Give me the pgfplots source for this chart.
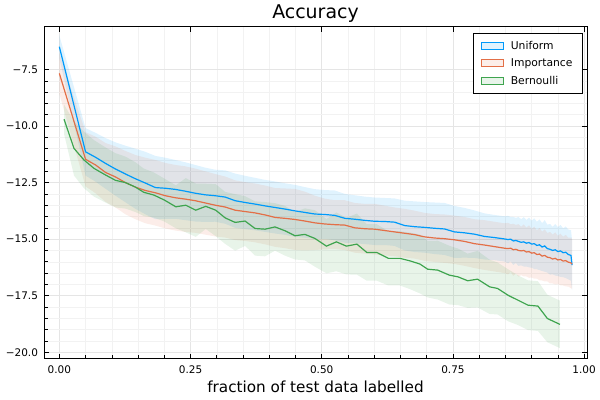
\documentclass[border=0pt]{standalone}
\usepackage{fontspec}
\setmainfont{DejaVu Sans}
\usepackage{pgfplots}
\pgfplotsset{compat=1.18}
\usepackage{pgfplotstable}
\usepgfplotslibrary{fillbetween}
\definecolor{cU}{RGB}{0,154,250}
\definecolor{cI}{RGB}{227,111,71}
\definecolor{cB}{RGB}{62,164,78}

% Uniform: x, mean, half-width of ribbon
\pgfplotstableread{
x y d
0.000 -6.49 0.50
0.050 -11.14 1.05
0.069 -11.38 1.08
0.088 -11.65 1.12
0.107 -11.90 1.18
0.126 -12.12 1.25
0.145 -12.33 1.33
0.164 -12.52 1.38
0.183 -12.72 1.40
0.202 -12.75 1.35
0.221 -12.80 1.30
0.240 -12.88 1.28
0.259 -12.97 1.25
0.278 -13.04 1.20
0.297 -13.08 1.15
0.316 -13.14 1.18
0.335 -13.30 1.20
0.354 -13.38 1.18
0.373 -13.45 1.16
0.392 -13.53 1.15
0.411 -13.60 1.15
0.430 -13.67 1.14
0.449 -13.75 1.15
0.468 -13.82 1.12
0.487 -13.89 1.10
0.506 -13.91 1.08
0.525 -13.95 1.10
0.544 -14.08 1.08
0.563 -14.12 1.06
0.582 -14.17 1.05
0.601 -14.21 1.05
0.620 -14.22 1.04
0.639 -14.25 1.05
0.658 -14.40 1.10
0.677 -14.45 1.12
0.696 -14.48 1.12
0.715 -14.52 1.14
0.734 -14.55 1.15
0.753 -14.68 1.15
0.772 -14.72 1.10
0.791 -14.78 1.05
0.810 -14.88 1.02
0.829 -14.93 1.00
0.848 -14.99 1.00
0.855 -15.02 1.05
0.860 -15.00 0.98
0.865 -15.08 1.06
0.870 -15.06 1.00
0.875 -15.10 1.08
0.880 -15.14 1.02
0.885 -15.12 1.09
0.890 -15.18 1.03
0.895 -15.15 1.10
0.900 -15.22 1.04
0.905 -15.20 1.12
0.910 -15.28 1.05
0.915 -15.25 1.12
0.920 -15.35 1.06
0.925 -15.30 1.14
0.930 -15.42 1.06
0.935 -15.45 1.12
0.940 -15.50 1.05
0.945 -15.47 1.14
0.950 -15.55 1.08
0.955 -15.52 1.15
0.960 -15.60 1.08
0.965 -15.58 1.14
0.970 -15.68 1.10
0.975 -15.72 1.12
0.977 -16.15 1.12
}\tU

% Importance
\pgfplotstableread{
x y d
0.000 -7.67 0.90
0.050 -11.47 1.20
0.069 -11.72 1.25
0.088 -12.05 1.30
0.107 -12.25 1.35
0.126 -12.50 1.40
0.145 -12.70 1.42
0.164 -12.85 1.45
0.183 -12.95 1.45
0.202 -13.08 1.45
0.221 -13.17 1.45
0.240 -13.23 1.45
0.259 -13.30 1.42
0.278 -13.40 1.40
0.297 -13.50 1.38
0.316 -13.58 1.35
0.335 -13.72 1.32
0.354 -13.78 1.30
0.373 -13.84 1.30
0.392 -13.93 1.30
0.411 -14.04 1.30
0.430 -14.08 1.32
0.449 -14.13 1.35
0.468 -14.20 1.30
0.487 -14.28 1.20
0.506 -14.33 1.12
0.525 -14.36 1.08
0.544 -14.38 1.10
0.563 -14.50 1.10
0.582 -14.54 1.10
0.601 -14.56 1.12
0.620 -14.62 1.10
0.639 -14.68 1.08
0.658 -14.74 1.08
0.677 -14.80 1.06
0.696 -14.90 1.06
0.715 -14.95 1.06
0.734 -14.98 1.07
0.753 -15.03 1.07
0.772 -15.10 1.08
0.791 -15.20 1.08
0.810 -15.26 1.10
0.829 -15.33 1.10
0.848 -15.40 1.10
0.855 -15.42 1.14
0.860 -15.40 1.06
0.865 -15.47 1.15
0.870 -15.45 1.08
0.875 -15.50 1.16
0.880 -15.52 1.07
0.885 -15.50 1.15
0.890 -15.57 1.08
0.895 -15.55 1.16
0.900 -15.62 1.08
0.905 -15.60 1.15
0.910 -15.68 1.07
0.915 -15.66 1.16
0.920 -15.75 1.08
0.925 -15.72 1.15
0.930 -15.80 1.07
0.935 -15.82 1.14
0.940 -15.88 1.08
0.945 -15.85 1.15
0.950 -15.92 1.07
0.955 -15.90 1.14
0.960 -15.97 1.08
0.965 -15.95 1.14
0.970 -16.02 1.08
0.975 -16.05 1.12
0.977 -16.10 1.10
}\tI

% Bernoulli
\pgfplotstableread{
x y d
0.009 -9.70 0.65
0.028 -10.99 1.20
0.047 -11.50 1.25
0.066 -11.87 1.25
0.087 -12.15 1.22
0.107 -12.40 1.20
0.126 -12.50 1.15
0.145 -12.70 1.10
0.161 -12.93 1.05
0.180 -13.05 1.00
0.200 -13.27 0.95
0.222 -13.57 0.95
0.241 -13.50 1.20
0.260 -13.72 1.18
0.279 -13.55 1.00
0.298 -13.72 1.15
0.316 -14.06 1.15
0.335 -14.26 1.25
0.354 -14.20 1.10
0.373 -14.53 1.20
0.392 -14.56 1.20
0.411 -14.46 1.05
0.430 -14.63 1.10
0.449 -14.85 1.05
0.468 -14.79 1.15
0.487 -14.97 1.25
0.509 -15.31 1.20
0.528 -15.12 1.30
0.547 -15.31 1.25
0.567 -15.22 1.35
0.586 -15.59 1.25
0.605 -15.59 1.25
0.627 -15.85 1.20
0.649 -15.85 1.20
0.668 -15.96 1.25
0.687 -16.10 1.30
0.702 -16.33 1.25
0.721 -16.37 1.30
0.743 -16.59 1.30
0.760 -16.67 1.25
0.778 -16.84 1.20
0.797 -16.77 1.25
0.820 -17.11 1.20
0.835 -17.18 1.15
0.855 -17.48 1.15
0.874 -17.70 1.10
0.893 -17.92 1.10
0.912 -17.96 1.10
0.930 -18.51 1.05
0.954 -18.77 1.05
}\tB

\begin{document}
\begin{tikzpicture}
\begin{axis}[
  at={(44bp,41bp)}, anchor=south west,
  scale only axis, width=543bp, height=332bp,
  xmin=-0.0292, xmax=1.0055, ymin=-20.30, ymax=-5.62,
  axis line style={line width=1bp},
  xtick={0,0.25,0.5,0.75,1},
  xticklabels={0.00,0.25,0.50,0.75,1.00},
  ytick={-20,-17.5,-15,-12.5,-10,-7.5},
  yticklabels={−20.0,−17.5,−15.0,−12.5,−10.0,−7.5},
  minor tick num=4,
  xtick pos=left, ytick pos=left,
  tick align=inside,
  major tick length=5bp, minor tick length=3.5bp,
  tick style={black, line width=0.6bp},
  grid=both,
  major grid style={black!10, line width=0.6bp},
  minor grid style={black!5, line width=0.5bp},
  ticklabel style={font=\fontsize{10.5}{12}\selectfont},
  xticklabel style={yshift=-3.5bp},
  yticklabel style={xshift=-2.5bp},
  title={Accuracy},
  title style={font=\fontsize{19}{22}\selectfont, at={(0.5,1)}, anchor=base, yshift=3bp, inner sep=0pt},
  xlabel={fraction of test data labelled},
  xlabel style={font=\fontsize{15.3}{18}\selectfont, at={(0.5,0)}, anchor=base, yshift=-33bp, inner sep=0pt},
  legend style={at={(1,1)}, anchor=north east, xshift=-4bp, yshift=-6bp,
    draw=black, line width=1bp, font=\fontsize{10.8}{12}\selectfont,
    inner xsep=8bp, inner ysep=5.5bp, row sep=4bp},
  legend cell align=left,
]
% Uniform
\addplot[name path=uH, draw=none, forget plot] table[x=x, y expr=\thisrow{y}+\thisrow{d}] {\tU};
\addplot[name path=uL, draw=none, forget plot] table[x=x, y expr=\thisrow{y}-\thisrow{d}] {\tU};
\addplot[fill=cU, fill opacity=0.12, draw=none, forget plot] fill between[of=uH and uL];
\addplot[cU, line width=1.2bp, forget plot] table[x=x, y=y] {\tU};
% Importance
\addplot[name path=iH, draw=none, forget plot] table[x=x, y expr=\thisrow{y}+\thisrow{d}] {\tI};
\addplot[name path=iL, draw=none, forget plot] table[x=x, y expr=\thisrow{y}-\thisrow{d}] {\tI};
\addplot[fill=cI, fill opacity=0.12, draw=none, forget plot] fill between[of=iH and iL];
\addplot[cI, line width=1.2bp, forget plot] table[x=x, y=y] {\tI};
% Bernoulli
\addplot[name path=bH, draw=none, forget plot] table[x=x, y expr=\thisrow{y}+\thisrow{d}] {\tB};
\addplot[name path=bL, draw=none, forget plot] table[x=x, y expr=\thisrow{y}-\thisrow{d}] {\tB};
\addplot[fill=cB, fill opacity=0.12, draw=none, forget plot] fill between[of=bH and bL];
\addplot[cB, line width=1.2bp, forget plot] table[x=x, y=y] {\tB};

\addlegendimage{legend image code/.code={\path[draw=none,fill=none] (0bp,-1bp) rectangle (27bp,1bp); \draw[draw=cU, fill=cU!12, line width=1.2bp] (0bp,-3.5bp) rectangle (22bp,3.5bp);}}
\addlegendentry{Uniform}
\addlegendimage{legend image code/.code={\path[draw=none,fill=none] (0bp,-1bp) rectangle (27bp,1bp); \draw[draw=cI, fill=cI!12, line width=1.2bp] (0bp,-3.5bp) rectangle (22bp,3.5bp);}}
\addlegendentry{Importance}
\addlegendimage{legend image code/.code={\path[draw=none,fill=none] (0bp,-1bp) rectangle (27bp,1bp); \draw[draw=cB, fill=cB!12, line width=1.2bp] (0bp,-3.5bp) rectangle (22bp,3.5bp);}}
\addlegendentry{Bernoulli}
\end{axis}
\begin{axis}[
  at={(44bp,41bp)}, anchor=south west,
  scale only axis, width=543bp, height=332bp,
  xmin=-0.0292, xmax=1.0055, ymin=-20.30, ymax=-5.62,
  axis line style={draw=none},
  xtick={0,0.25,0.5,0.75,1},
  ytick={-20,-17.5,-15,-12.5,-10,-7.5},
  xticklabels={}, yticklabels={},
  xtick pos=right, ytick pos=right,
  minor tick num=0,
  tick align=inside, major tick length=5bp,
  tick style={black, line width=0.6bp},
]
\addplot[draw=none, forget plot] coordinates {(0.5,-12)};
\end{axis}
\pgfresetboundingbox
\path (0,0) rectangle (600bp,400bp);
\end{tikzpicture}
\end{document}
